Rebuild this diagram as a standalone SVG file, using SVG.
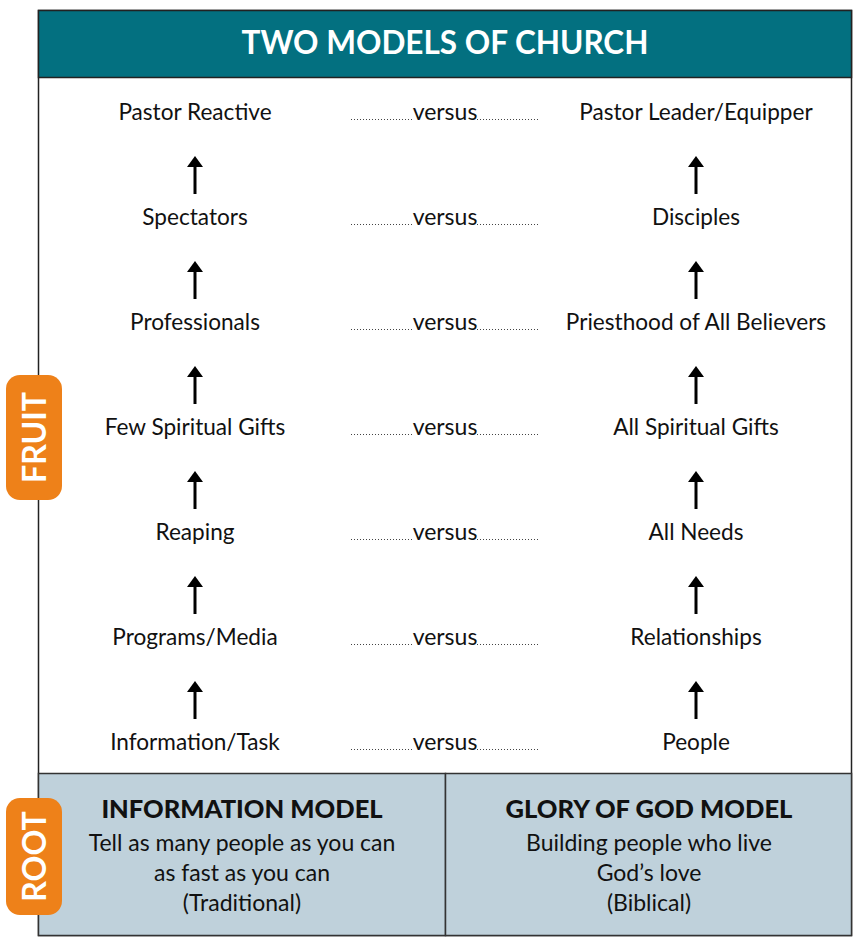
<svg xmlns="http://www.w3.org/2000/svg" width="854" height="939" viewBox="0 0 854 939">
  <style>
    .item { font-family: "Lato", "Noto Sans", sans-serif; font-size: 22.6px; fill: #111; text-anchor: middle; }
    .vs { font-family: "Lato", "Noto Sans", sans-serif; font-size: 23px; fill: #111; text-anchor: middle; }
    .dots { stroke: #444; stroke-width: 1; stroke-dasharray: 1 2; fill: none; }
    .title { font-family: "Lato", "Noto Sans", sans-serif; font-size: 31.5px; font-weight: bold; fill: #fff; text-anchor: middle; }
    .badge { fill: #ee8119; }
    .badgeText { font-family: "Lato", "Noto Sans", sans-serif; font-size: 32px; font-weight: bold; fill: #fff; text-anchor: middle; }
    .panel { fill: #bfd1db; stroke: #333; stroke-width: 1.5; }
    .head { font-family: "Lato", "Noto Sans", sans-serif; font-size: 25.5px; font-weight: 900; fill: #111; text-anchor: middle; }
    .sub { font-family: "Lato", "Noto Sans", sans-serif; font-size: 23px; fill: #111; text-anchor: middle; }
  </style>
  <defs>
    <g id="up">
      <path d="M0,38 V10" stroke="#000" stroke-width="3"/>
      <path d="M-8,11 L0,0 L8,11 Z" fill="#000"/>
    </g>
  </defs>

  <!-- outer frame -->
  <rect x="38.5" y="10.5" width="813" height="925" fill="#fff" stroke="#222" stroke-width="1.5"/>

  <!-- title bar -->
  <g id="title">
    <rect x="38.5" y="10.5" width="813" height="67" fill="#037080" stroke="#222" stroke-width="1.5"/>
    <text class="title" x="445" y="54">TWO MODELS OF CHURCH</text>
  </g>

  <!-- left column -->
  <g id="left-1"><text class="item" x="195" y="120">Pastor Reactive</text></g>
  <g id="left-2"><text class="item" x="195" y="225">Spectators</text></g>
  <g id="left-3"><text class="item" x="195" y="330">Professionals</text></g>
  <g id="left-4"><text class="item" x="195" y="435">Few Spiritual Gifts</text></g>
  <g id="left-5"><text class="item" x="195" y="540">Reaping</text></g>
  <g id="left-6"><text class="item" x="195" y="645">Programs/Media</text></g>
  <g id="left-7"><text class="item" x="195" y="750">Information/Task</text></g>

  <!-- right column -->
  <g id="right-1"><text class="item" x="696" y="120">Pastor Leader/Equipper</text></g>
  <g id="right-2"><text class="item" x="696" y="225">Disciples</text></g>
  <g id="right-3"><text class="item" x="696" y="330">Priesthood of All Believers</text></g>
  <g id="right-4"><text class="item" x="696" y="435">All Spiritual Gifts</text></g>
  <g id="right-5"><text class="item" x="696" y="540">All Needs</text></g>
  <g id="right-6"><text class="item" x="696" y="645">Relationships</text></g>
  <g id="right-7"><text class="item" x="696" y="750">People</text></g>

  <!-- versus rows -->
  <g id="versus">
    <text class="vs" x="445" y="120">versus</text>
    <text class="vs" x="445" y="225">versus</text>
    <text class="vs" x="445" y="330">versus</text>
    <text class="vs" x="445" y="435">versus</text>
    <text class="vs" x="445" y="540">versus</text>
    <text class="vs" x="445" y="645">versus</text>
    <text class="vs" x="445" y="750">versus</text>
  </g>

  <!-- connectors: dotted lines and upward arrows -->
  <g id="connectors">
    <path class="dots" d="M351,119.5 H413 M477,119.5 H540 M351,224.5 H413 M477,224.5 H540 M351,329.5 H413 M477,329.5 H540 M351,434.5 H413 M477,434.5 H540 M351,539.5 H413 M477,539.5 H540 M351,644.5 H413 M477,644.5 H540 M351,749.5 H413 M477,749.5 H540"/>
    <use href="#up" x="195" y="156"/>
    <use href="#up" x="195" y="261"/>
    <use href="#up" x="195" y="366"/>
    <use href="#up" x="195" y="471"/>
    <use href="#up" x="195" y="576"/>
    <use href="#up" x="195" y="681"/>
    <use href="#up" x="696" y="156"/>
    <use href="#up" x="696" y="261"/>
    <use href="#up" x="696" y="366"/>
    <use href="#up" x="696" y="471"/>
    <use href="#up" x="696" y="576"/>
    <use href="#up" x="696" y="681"/>
  </g>

  <!-- root panels -->
  <g id="information-model">
    <rect class="panel" x="38.5" y="773.5" width="407" height="162"/>
    <text class="head" x="242" y="818">INFORMATION MODEL</text>
    <text class="sub" x="242" y="851">Tell as many people as you can</text>
    <text class="sub" x="242" y="881">as fast as you can</text>
    <text class="sub" x="242" y="911">(Traditional)</text>
  </g>
  <g id="glory-model">
    <rect class="panel" x="445.5" y="773.5" width="406" height="162"/>
    <text class="head" x="649" y="818">GLORY OF GOD MODEL</text>
    <text class="sub" x="649" y="851">Building people who live</text>
    <text class="sub" x="649" y="881">God’s love</text>
    <text class="sub" x="649" y="911">(Biblical)</text>
  </g>

  <!-- side badges -->
  <g id="fruit">
    <rect class="badge" x="6" y="375" width="56" height="125" rx="14"/>
    <text class="badgeText" transform="translate(45.5,437.5) rotate(-90)">FRUIT</text>
  </g>
  <g id="root">
    <rect class="badge" x="6" y="798" width="56" height="117" rx="14"/>
    <text class="badgeText" transform="translate(45.5,856.5) rotate(-90)">ROOT</text>
  </g>
</svg>
